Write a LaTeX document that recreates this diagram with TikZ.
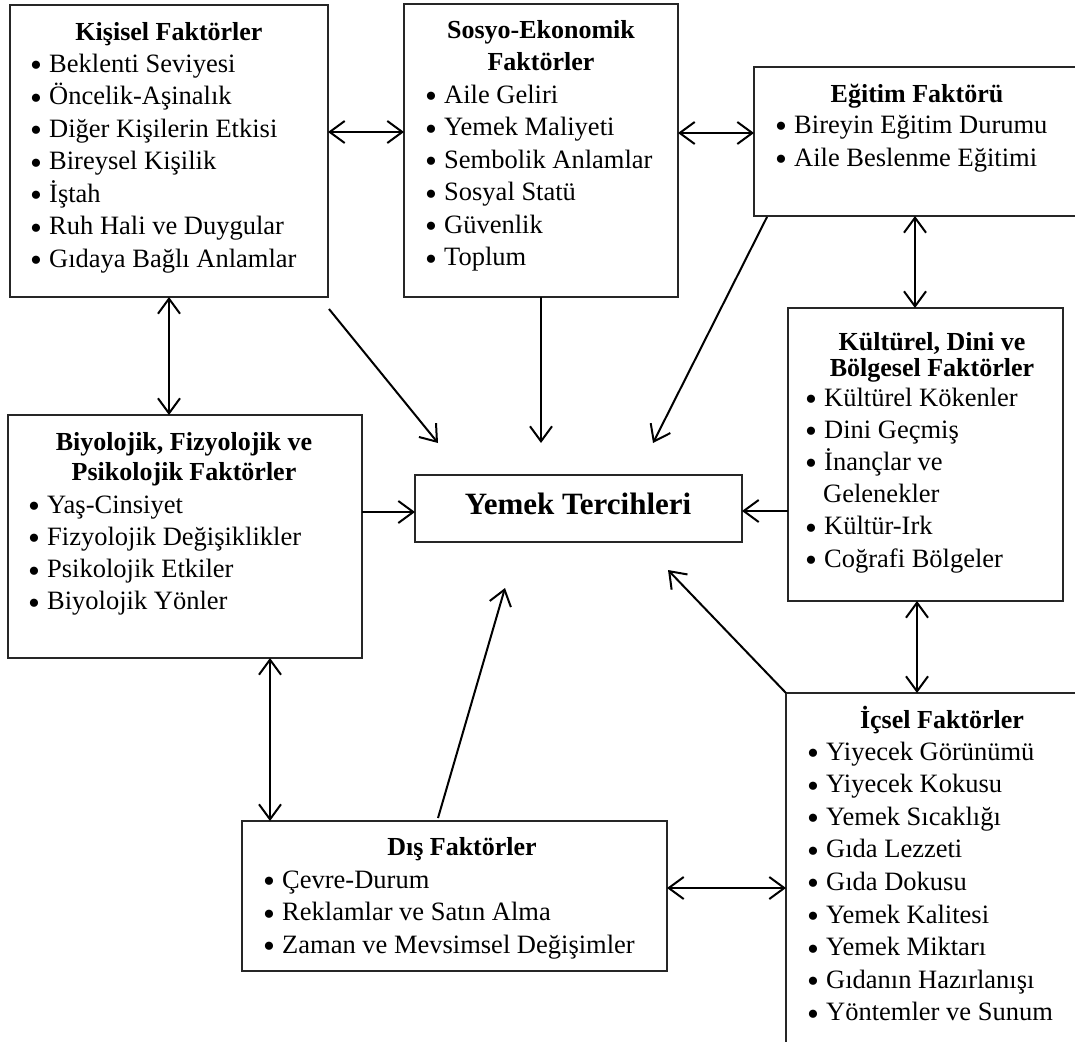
\documentclass[tikz,border=0pt]{standalone}
\usepackage{fontspec}
\setmainfont{Liberation Serif}
\usetikzlibrary{arrows.meta,calc}

% bullet with a hanging indent
\newcommand\bul{\makebox[19pt][l]{\smash{\raisebox{-4.5pt}{\fontsize{34}{34}\selectfont •}}}}

\begin{document}
\begin{tikzpicture}[x=1pt,y=-1pt,
  box/.style={draw=black!85, line width=1.3pt, rectangle, inner sep=0pt, outer sep=0pt, anchor=north west},
  ttl/.style={anchor=base, inner sep=0pt, font=\bfseries\fontsize{26}{32}\selectfont},
  lst/.style={anchor=base west, inner sep=0pt, font=\fontsize{26.5}{32.5}\selectfont},
  tip/.tip={Straight Barb[length=15pt,width=22pt]},
  con/.style={line width=2pt, -tip},
  dcon/.style={line width=2pt, tip-tip},
]
\path[use as bounding box, clip] (0,0) rectangle (1075,1041);

% ---------- boxes ----------
\node[box, minimum width=318pt, minimum height=292pt] (k) at (10,5) {};
\node[box, minimum width=274pt, minimum height=293pt] (s) at (404,4) {};
\node[box, minimum width=340pt, minimum height=149pt] (e) at (754,67) {};
\node[box, minimum width=275pt, minimum height=293pt] (c) at (788,308) {};
\node[box, minimum width=354pt, minimum height=243pt] (b) at (8,415) {};
\node[box, minimum width=327pt, minimum height=67pt]  (y) at (415,475) {};
\node[box, minimum width=425pt, minimum height=150pt] (d) at (242,821) {};
\node[box, minimum width=320pt, minimum height=380pt] (i) at (786,693) {};

% ---------- texts ----------
\node[ttl] (kt) at (169,41) {Kişisel Faktörler};
\node[lst] (kl) at (30,72) {\begin{tabular}[t]{@{}l@{}}
\bul Beklenti Seviyesi\\ \bul Öncelik-Aşinalık\\ \bul Diğer Kişilerin Etkisi\\
\bul Bireysel Kişilik\\ \bul İştah\\ \bul Ruh Hali ve Duygular\\ \bul Gıdaya Bağlı Anlamlar
\end{tabular}};

\node[ttl] (st) at (541,39) {\begin{tabular}[t]{@{}c@{}}Sosyo-Ekonomik\\Faktörler\end{tabular}};
\node[lst] (sl) at (425,103) {\begin{tabular}[t]{@{}l@{}}
\bul Aile Geliri\\ \bul Yemek Maliyeti\\ \bul Sembolik Anlamlar\\
\bul Sosyal Statü\\ \bul Güvenlik\\ \bul Toplum
\end{tabular}};

\node[ttl] (et) at (917,102) {Eğitim Faktörü};
\node[lst, font=\fontsize{26.5}{33}\selectfont] (el) at (775,133) {\begin{tabular}[t]{@{}l@{}}
\bul Bireyin Eğitim Durumu\\ \bul Aile Beslenme Eğitimi
\end{tabular}};

\node[ttl, font=\bfseries\fontsize{26}{26}\selectfont] (ct) at (932,350) {\begin{tabular}[t]{@{}c@{}}Kültürel, Dini ve\\Bölgesel Faktörler\end{tabular}};
\node[lst, font=\fontsize{26.5}{32.2}\selectfont] (cl) at (805,406) {\begin{tabular}[t]{@{}l@{}}
\bul Kültürel Kökenler\\ \bul Dini Geçmiş\\ \bul İnançlar ve\\ \hspace*{18pt}Gelenekler\\
\bul Kültür-Irk\\ \bul Coğrafi Bölgeler
\end{tabular}};

\node[ttl, font=\bfseries\fontsize{26}{30}\selectfont] (bt) at (184,450) {\begin{tabular}[t]{@{}c@{}}Biyolojik, Fizyolojik ve\\Psikolojik Faktörler\end{tabular}};
\node[lst, font=\fontsize{26.5}{32.3}\selectfont] (bl) at (28,513) {\begin{tabular}[t]{@{}l@{}}
\bul Yaş-Cinsiyet\\ \bul Fizyolojik Değişiklikler\\ \bul Psikolojik Etkiler\\ \bul Biyolojik Yönler
\end{tabular}};

\node[ttl, font=\bfseries\fontsize{31}{36}\selectfont] (yt) at (578,514) {Yemek Tercihleri};

\node[ttl] (dt) at (462,855) {Dış Faktörler};
\node[lst] (dl) at (263,888) {\begin{tabular}[t]{@{}l@{}}
\bul Çevre-Durum\\ \bul Reklamlar ve Satın Alma\\ \bul Zaman ve Mevsimsel Değişimler
\end{tabular}};

\node[ttl] (it) at (942,728) {İçsel Faktörler};
\node[lst, font=\fontsize{26.5}{32.6}\selectfont] (il) at (807,760) {\begin{tabular}[t]{@{}l@{}}
\bul Yiyecek Görünümü\\ \bul Yiyecek Kokusu\\ \bul Yemek Sıcaklığı\\ \bul Gıda Lezzeti\\
\bul Gıda Dokusu\\ \bul Yemek Kalitesi\\ \bul Yemek Miktarı\\ \bul Gıdanın Hazırlanışı\\
\bul Yöntemler ve Sunum
\end{tabular}};

% ---------- free ends of the slanted connectors ----------
\coordinate (k1) at ($(k.south east)+(1,12)$);
\coordinate (y1) at ($(y.north west)+(23,-32)$);
\coordinate (e1) at ($(e.south west)+(13,1)$);
\coordinate (y2) at ($(y.north west)+(238,-32)$);
\coordinate (y3) at ($(y.north west)+(126,-32)$);
\coordinate (d1) at ($(d.north west)+(196,-3)$);
\coordinate (y4) at ($(y.south west)+(90,46)$);
\coordinate (y5) at ($(y.south east)+(-74,28)$);

% ---------- connectors ----------
\draw[dcon] (k.east |- 0,132) -- (s.west |- 0,132);
\draw[dcon] (s.east |- 0,133) -- (e.west |- 0,133);
\draw[dcon] (e.south -| 915,0) -- (c.north -| 915,0);
\draw[dcon] (k.south -| 169,0) -- (b.north -| 169,0);
\draw[con] (k1) -- (y1);
\draw[con] (s.south -| y3) -- (y3);
\draw[con] (e1) -- (y2);
\draw[con] (b.east |- 0,512) -- (y.west |- 0,512);
\draw[con] (c.west |- 0,511) -- (y.east |- 0,511);
\draw[dcon] (c.south -| 917,0) -- (i.north -| 917,0);
\draw[dcon] (b.south -| 270,0) -- (d.north -| 270,0);
\draw[con] (d1) -- (y4);
\draw[con] (i.north west) -- (y5);
\draw[dcon] (d.east |- 0,888) -- (i.west |- 0,888);
\end{tikzpicture}
\end{document}
